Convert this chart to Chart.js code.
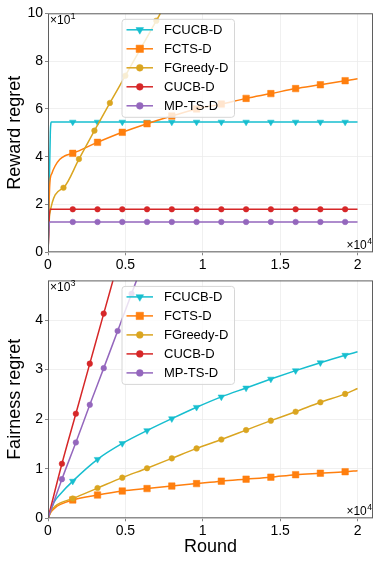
<!DOCTYPE html>
<html lang="en">
<head>
<meta charset="UTF-8">
<title>Reward and fairness regret</title>
<script src="https://cdn.jsdelivr.net/npm/chart.js"></script>
<style>
  body { margin: 0; background: #fff; }
  canvas { display: block; }
</style>
</head>
<body>
<canvas id="rewardChart" width="382" height="270"></canvas>
<canvas id="fairnessChart" width="382" height="294"></canvas>
<script>
const seriesNames = ['FCUCB-D', 'FCTS-D', 'FGreedy-D', 'CUCB-D', 'MP-TS-D'];
const seriesColors = ['#17becf', '#ff7f0e', '#daa520', '#d62728', '#9467bd'];
const seriesMarkers = ['triangle', 'rect', 'circle', 'circle', 'circle'];
const markerRadius = [3.8, 4.6, 2.8, 2.8, 2.8];

const roundTicks = [0, 5000, 10000, 15000, 20000];
const roundTickLabels = ['0', '0.5', '1', '1.5', '2'];
const rewardTicks = [0, 20, 40, 60, 80, 100];
const rewardTickLabels = ['0', '2', '4', '6', '8', '10'];
const fairnessTicks = [0, 1000, 2000, 3000, 4000];
const fairnessTickLabels = ['0', '1', '2', '3', '4'];

// rounds where a marker is drawn
const markRounds = [1600, 3200, 4800, 6400, 8000, 9600, 11200, 12800, 14400, 16000, 17600, 19200];
const greedyMarkRounds = [1000, 2000, 3000, 4000, 5000, 6000, 7000];
const fastMarkRounds = [900, 1800, 2700, 3600, 4500, 5400];

// reward regret (top panel)
const rewardFcucbX = [0, 150, 220, 1600, 3200, 4800, 6400, 8000, 9600, 11200, 12800, 14400, 16000, 17600, 19200, 20000];
const rewardFcucbY = [0, 50, 54.5, 54.5, 54.5, 54.5, 54.5, 54.5, 54.5, 54.5, 54.5, 54.5, 54.5, 54.5, 54.5, 54.5];
const rewardFctsX = [0, 60, 120, 250, 450, 750, 1100, 1600, 3200, 4800, 6400, 8000, 9600, 11200, 12800, 14400, 16000, 17600, 19200, 20000];
const rewardFctsY = [0, 18, 29, 33, 36, 38.8, 40.4, 41.4, 46.0, 50.2, 53.8, 57.0, 60.0, 62.0, 64.4, 66.4, 68.5, 70.1, 71.8, 72.6];
const rewardGreedyX = [0, 110, 1000, 2000, 3000, 4000, 5000, 6000, 7000, 7260];
const rewardGreedyY = [0, 16, 27.0, 39.0, 50.9, 62.5, 73.9, 85.4, 96.9, 100];
const rewardCucbX = [0, 120, 1600, 3200, 4800, 6400, 8000, 9600, 11200, 12800, 14400, 16000, 17600, 19200, 20000];
const rewardCucbY = [0, 18, 18, 18, 18, 18, 18, 18, 18, 18, 18, 18, 18, 18, 18];
const rewardMptsX = [0, 100, 1600, 3200, 4800, 6400, 8000, 9600, 11200, 12800, 14400, 16000, 17600, 19200, 20000];
const rewardMptsY = [0, 12.7, 12.7, 12.7, 12.7, 12.7, 12.7, 12.7, 12.7, 12.7, 12.7, 12.7, 12.7, 12.7, 12.7];

// fairness regret (bottom panel)
const fairFcucbX = [0, 400, 800, 1600, 3200, 4800, 6400, 8000, 9600, 11200, 12800, 14400, 16000, 17600, 19200, 20000];
const fairFcucbY = [0, 330, 490, 750, 1190, 1510, 1770, 2010, 2240, 2450, 2630, 2810, 2980, 3140, 3290, 3360];
const fairFctsX = [0, 200, 450, 800, 1600, 3200, 4800, 6400, 8000, 9600, 11200, 12800, 14400, 16000, 17600, 19200, 20000];
const fairFctsY = [0, 130, 210, 280, 370, 470, 550, 600, 650, 700, 750, 790, 830, 880, 910, 940, 960];
const fairGreedyX = [0, 200, 450, 800, 1600, 3200, 4800, 6400, 8000, 9600, 11200, 12800, 14400, 16000, 17600, 19200, 20000];
const fairGreedyY = [0, 150, 240, 310, 400, 610, 820, 1010, 1210, 1410, 1590, 1780, 1970, 2150, 2340, 2510, 2620];
const fairCucbX = [0, 900, 1800, 2700, 3600, 4200];
const fairCucbY = [0, 1100, 2110, 3120, 4130, 4800];
const fairMptsX = [0, 900, 1800, 2700, 3600, 4500, 5400, 5720];
const fairMptsY = [0, 790, 1530, 2290, 3030, 3780, 4530, 4800];

const FONT = "'Liberation Sans', Arial, Helvetica, sans-serif";

function toPoints(xs, ys) {
    return xs.map((x, i) => ({ x: x, y: ys[i] }));
}

function makeDataset(i, xs, ys, marks) {
    return {
        label: seriesNames[i],
        data: toPoints(xs, ys),
        borderColor: seriesColors[i],
        backgroundColor: seriesColors[i],
        borderWidth: 1.5,
        cubicInterpolationMode: 'monotone',
        pointStyle: seriesMarkers[i],
        pointRotation: i === 0 ? 180 : 0,
        pointRadius: ctx => marks.includes(ctx.raw.x) ? markerRadius[i] : 0,
        pointBorderWidth: 0.5,
        pointBackgroundColor: seriesColors[i],
        pointBorderColor: seriesColors[i],
        order: seriesNames.length - i,
    };
}

// frame, offset texts ("x10^n") and a matplotlib style legend
const overlayPlugin = {
    id: 'overlay',
    afterDraw(chart, args, opts) {
        const ctx = chart.ctx;
        const a = chart.chartArea;
        ctx.save();

        ctx.strokeStyle = '#5f5f5f';
        ctx.lineWidth = 1;
        ctx.strokeRect(a.left + 0.5, a.top + 0.5, a.right - a.left - 1, a.bottom - a.top - 1);

        function offsetText(x, y, exp, alignRight) {
            ctx.fillStyle = '#000';
            ctx.textBaseline = 'alphabetic';
            ctx.textAlign = 'left';
            ctx.font = '12px ' + FONT;
            const base = '\u00d710';
            const wBase = ctx.measureText(base).width;
            ctx.font = '8.5px ' + FONT;
            const wExp = ctx.measureText(exp).width;
            const x0 = alignRight ? x - wBase - wExp : x;
            ctx.font = '12px ' + FONT;
            ctx.fillText(base, x0, y);
            ctx.font = '8.5px ' + FONT;
            ctx.fillText(exp, x0 + wBase + 0.5, y - 5);
        }
        offsetText(a.left + 2, a.top + 10.5, opts.yExp, false);
        offsetText(a.right - 1.5, a.bottom - 3.5, '4', true);

        // legend
        const box = { x: a.left + 73.5, y: a.top + 5.5, w: 112.5, h: 98 };
        ctx.beginPath();
        ctx.roundRect(box.x + 0.5, box.y + 0.5, box.w, box.h, 3);
        ctx.fillStyle = 'rgba(255,255,255,0.8)';
        ctx.fill();
        ctx.strokeStyle = '#d6d6d6';
        ctx.stroke();

        chart.data.datasets.forEach((ds, i) => {
            const cy = box.y + 11 + 19 * i;
            ctx.strokeStyle = seriesColors[i];
            ctx.lineWidth = 1.5;
            ctx.beginPath();
            ctx.moveTo(box.x + 5, cy);
            ctx.lineTo(box.x + 31.5, cy);
            ctx.stroke();
            ctx.fillStyle = seriesColors[i];
            ctx.lineWidth = 0.5;
            Chart.helpers.drawPoint(ctx, {
                pointStyle: seriesMarkers[i],
                rotation: i === 0 ? 180 : 0,
                radius: markerRadius[i] + 0.6,
                borderWidth: 0.5,
            }, box.x + 18.3, cy);
            ctx.fillStyle = '#000';
            ctx.font = '13px ' + FONT;
            ctx.textAlign = 'left';
            ctx.textBaseline = 'middle';
            ctx.fillText(ds.label, box.x + 42.5, cy + 0.5);
        });
        ctx.restore();
    }
};

function makeChart(id, datasets, cfg) {
    const ctx = document.getElementById(id).getContext('2d');
    return new Chart(ctx, {
        type: 'line',
        data: { datasets: datasets },
        options: {
            responsive: false,
            animation: false,
            events: [],
            layout: { padding: { top: cfg.padTop, right: 9, left: 0, bottom: 0 } },
            plugins: {
                legend: { display: false },
                tooltip: { enabled: false },
                overlay: { yExp: cfg.yExp },
            },
            scales: {
                x: {
                    type: 'linear',
                    min: 0,
                    max: 21000,
                    afterBuildTicks: s => { s.ticks = roundTicks.map(v => ({ value: v })); },
                    afterFit: s => { s.height = cfg.xHeight; },
                    ticks: {
                        callback: (v, idx) => roundTickLabels[idx],
                        font: { family: FONT, size: 14 },
                        color: '#000',
                        padding: 1,
                        maxRotation: 0,
                        autoSkip: false,
                    },
                    grid: { color: '#ececec', lineWidth: 0.8, tickLength: 3, tickColor: '#666' },
                    border: { display: false },
                    title: {
                        display: cfg.xTitle !== '',
                        text: cfg.xTitle,
                        font: { family: FONT, size: 18 },
                        color: '#000',
                        padding: { top: 0, bottom: 6.5 },
                    },
                },
                y: {
                    type: 'linear',
                    min: 0,
                    max: cfg.yMax,
                    afterBuildTicks: s => { s.ticks = cfg.yTicks.map(v => ({ value: v })); },
                    afterFit: s => { s.width = 48; },
                    ticks: {
                        callback: (v, idx) => cfg.yLabels[idx],
                        font: { family: FONT, size: 14 },
                        color: '#000',
                        padding: 2,
                        autoSkip: false,
                    },
                    grid: { color: '#ececec', lineWidth: 0.8, tickLength: 3, tickColor: '#666' },
                    border: { display: false },
                    title: {
                        display: true,
                        text: cfg.yTitle,
                        font: { family: FONT, size: 18 },
                        color: '#000',
                        padding: { top: 4.2, bottom: 0 },
                    },
                },
            },
        },
        plugins: [overlayPlugin],
    });
}

makeChart('rewardChart', [
    makeDataset(0, rewardFcucbX, rewardFcucbY, markRounds),
    makeDataset(1, rewardFctsX, rewardFctsY, markRounds),
    makeDataset(2, rewardGreedyX, rewardGreedyY, greedyMarkRounds),
    makeDataset(3, rewardCucbX, rewardCucbY, markRounds),
    makeDataset(4, rewardMptsX, rewardMptsY, markRounds),
], {
    padTop: 13.3, xHeight: 17.7, yMax: 100, yTicks: rewardTicks, yLabels: rewardTickLabels,
    yTitle: 'Reward regret', yExp: '1', xTitle: '',
});

makeChart('fairnessChart', [
    makeDataset(0, fairFcucbX, fairFcucbY, markRounds),
    makeDataset(1, fairFctsX, fairFctsY, markRounds),
    makeDataset(2, fairGreedyX, fairGreedyY, markRounds),
    makeDataset(3, fairCucbX, fairCucbY, fastMarkRounds),
    makeDataset(4, fairMptsX, fairMptsY, fastMarkRounds),
], {
    padTop: 8.3, xHeight: 45.7, yMax: 4800, yTicks: fairnessTicks, yLabels: fairnessTickLabels,
    yTitle: 'Fairness regret', yExp: '3', xTitle: 'Round',
});
</script>
</body>
</html>
